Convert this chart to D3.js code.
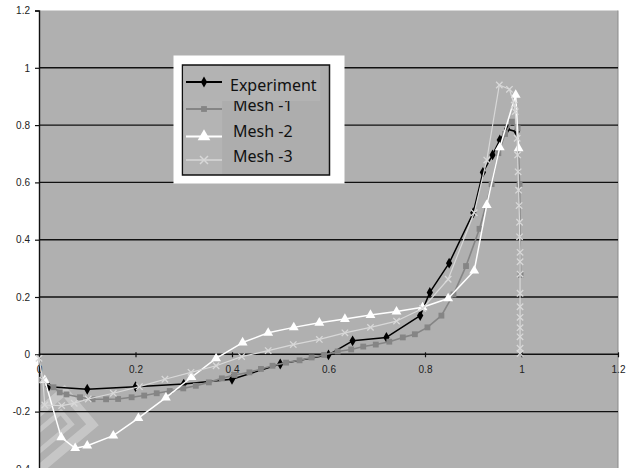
<!DOCTYPE html>
<html>
<head>
<meta charset="utf-8">
<script src="https://cdn.jsdelivr.net/npm/d3@7"></script>
<style>
  html, body { margin: 0; padding: 0; background: #fff; }
  svg { display: block; }
</style>
</head>
<body>
<svg id="chart" width="633" height="468"></svg>
<script>
// Axis ticks
const xTicks = [0, 0.2, 0.4, 0.6, 0.8, 1, 1.2];
const yTicks = [-0.4, -0.2, 0, 0.2, 0.4, 0.6, 0.8, 1, 1.2];

// Series names
const seriesNames = ["Experiment", "Mesh -1", "Mesh -2", "Mesh -3"];

// Experiment
const expX = [0.02, 0.10, 0.20, 0.30, 0.40, 0.50, 0.60, 0.65, 0.72, 0.79, 0.81, 0.85, 0.90, 0.92, 0.94, 0.955, 0.97, 0.99];
const expY = [-0.113, -0.122, -0.113, -0.104, -0.087, -0.034, -0.002, 0.047, 0.059, 0.135, 0.216, 0.318, 0.494, 0.635, 0.696, 0.748, 0.786, 0.777];

// Mesh -1
const mesh1X = [0.006, 0.03, 0.043, 0.057, 0.085, 0.111, 0.139, 0.164, 0.192, 0.218, 0.244, 0.271, 0.299, 0.325, 0.352, 0.379, 0.405, 0.436, 0.46, 0.484, 0.512, 0.54, 0.565, 0.591, 0.619, 0.647, 0.672, 0.698, 0.726, 0.754, 0.779, 0.805, 0.834, 0.859, 0.885, 0.913, 0.938, 0.952, 0.966, 0.98, 0.992, 0.996, 0.998];
const mesh1Y = [-0.090, -0.115, -0.133, -0.140, -0.150, -0.157, -0.157, -0.156, -0.150, -0.144, -0.136, -0.128, -0.119, -0.110, -0.098, -0.084, -0.072, -0.063, -0.051, -0.040, -0.029, -0.021, -0.011, -0.002, 0.010, 0.017, 0.027, 0.034, 0.044, 0.059, 0.070, 0.094, 0.135, 0.209, 0.308, 0.438, 0.594, 0.702, 0.769, 0.812, 0.789, 0.594, 0.277];

// Mesh -2
const mesh2X = [0.012, 0.046, 0.075, 0.10, 0.154, 0.206, 0.263, 0.316, 0.367, 0.422, 0.475, 0.528, 0.581, 0.634, 0.687, 0.741, 0.795, 0.848, 0.902, 0.928, 0.955, 0.988, 0.994];
const mesh2Y = [-0.09, -0.29, -0.328, -0.319, -0.284, -0.223, -0.151, -0.08, -0.014, 0.041, 0.075, 0.094, 0.110, 0.123, 0.137, 0.149, 0.164, 0.195, 0.292, 0.521, 0.722, 0.905, 0.719];

// Mesh -3
const mesh3X = [0, 0.008, 0.012, 0.047, 0.073, 0.102, 0.154, 0.208, 0.261, 0.315, 0.367, 0.42, 0.475, 0.527, 0.581, 0.634, 0.687, 0.741, 0.795, 0.848, 0.902, 0.928, 0.954, 0.975, 0.985, 0.987, 0.991, 0.992, 0.993, 0.994, 0.995, 0.996, 0.996, 0.997, 0.997, 0.997, 0.997, 0.997, 0.997, 0.997, 0.997, 0.997, 0.997];
const mesh3Y = [-0.014, -0.09, -0.177, -0.179, -0.171, -0.156, -0.136, -0.113, -0.087, -0.063, -0.04, -0.008, 0.013, 0.034, 0.052, 0.075, 0.094, 0.116, 0.16, 0.262, 0.494, 0.678, 0.94, 0.925, 0.87, 0.847, 0.754, 0.696, 0.637, 0.573, 0.519, 0.461, 0.41, 0.356, 0.323, 0.28, 0.213, 0.166, 0.129, 0.093, 0.061, 0.021, 0.003];

const W = 633, H = 468;
const plotLeft = 39, plotRight = 618, plotTop = 10.5;

const x = d3.scaleLinear().domain([0, 1.2]).range([plotLeft, plotRight]);
const y = d3.scaleLinear().domain([-0.4, 1.2]).range([468.9, plotTop]);

const svg = d3.select("#chart");
const fmt = d => String(+d.toFixed(1));

// Plot area background
svg.append("rect")
  .attr("x", plotLeft).attr("y", plotTop)
  .attr("width", plotRight - plotLeft).attr("height", H - plotTop + 20)
  .attr("fill", "#b0b0b0");

// Faint stamp in the lower-left corner
const stamp = svg.append("g")
  .attr("transform", "translate(40,440) rotate(-40)")
  .attr("fill", "none").attr("stroke", "#ffffff").attr("opacity", 0.28);
stamp.append("rect").attr("x", -40).attr("y", -22).attr("width", 90).attr("height", 44).attr("stroke-width", 9);
stamp.append("rect").attr("x", -22).attr("y", -8).attr("width", 56).attr("height", 16).attr("stroke-width", 5);

// Right edge of the plot area
svg.append("line")
  .attr("x1", plotRight).attr("x2", plotRight)
  .attr("y1", plotTop).attr("y2", H)
  .attr("stroke", "#8a8a8a").attr("stroke-width", 1);

// Horizontal gridlines
svg.append("g")
  .selectAll("line")
  .data(yTicks.filter(v => v !== 1.2 && v !== 0))
  .join("line")
  .attr("x1", plotLeft).attr("x2", plotRight)
  .attr("y1", d => y(d)).attr("y2", d => y(d))
  .attr("stroke", "#111").attr("stroke-width", 1.4);

// Y axis
const yAxis = d3.axisLeft(y).tickValues(yTicks).tickFormat(fmt).tickSize(4).tickPadding(5);
const gy = svg.append("g").attr("transform", `translate(${plotLeft},0)`).call(yAxis);
gy.select(".domain").attr("stroke", "#111").attr("stroke-width", 1.4);
gy.selectAll(".tick line").attr("stroke", "#111").attr("stroke-width", 1.2);
gy.selectAll(".tick text")
  .attr("font-family", "'Liberation Sans', Arial, sans-serif")
  .attr("font-size", 10).attr("fill", "#222");

// X axis through zero
const xAxis = d3.axisBottom(x).tickValues(xTicks).tickFormat(fmt).tickSize(3).tickPadding(9);
const gx = svg.append("g").attr("transform", `translate(0,${y(0)})`).call(xAxis);
gx.select(".domain").attr("stroke", "#111").attr("stroke-width", 1.4).attr("d", `M${plotLeft},0H${plotRight}`);
gx.selectAll(".tick line").attr("stroke", "#111").attr("stroke-width", 1.2).attr("y1", -2);
gx.selectAll(".tick text")
  .attr("font-family", "'Liberation Sans', Arial, sans-serif")
  .attr("font-size", 10).attr("fill", "#222");

// Marker shapes
const xMark = s => `M${-s},${-s}L${s},${s}M${-s},${s}L${s},${-s}`;
const styles = [
  { color: "#000000", width: 1.5, sym: d3.symbol(d3.symbolDiamond, 34)(), fill: true },
  { color: "#858585", width: 1.6, sym: d3.symbol(d3.symbolSquare, 34)(), fill: true },
  { color: "#ffffff", width: 1.5, sym: d3.symbol(d3.symbolTriangle, 42)(), fill: true },
  { color: "#d8d8d8", width: 1.2, sym: xMark(3.2), fill: false }
];

const series = [
  d3.zip(expX, expY),
  d3.zip(mesh1X, mesh1Y),
  d3.zip(mesh2X, mesh2Y),
  d3.zip(mesh3X, mesh3Y)
];

const lineLin = d3.line().x(d => x(d[0])).y(d => y(d[1]));

series.forEach((pts, i) => {
  const st = styles[i];
  const g = svg.append("g");
  g.append("path")
    .attr("d", lineLin(pts))
    .attr("fill", "none").attr("stroke", st.color)
    .attr("stroke-width", st.width).attr("stroke-linejoin", "round");
  g.selectAll("path.m")
    .data(pts)
    .join("path")
    .attr("class", "m")
    .attr("transform", d => `translate(${x(d[0])},${y(d[1])})`)
    .attr("d", st.sym)
    .attr("fill", st.fill ? st.color : "none")
    .attr("stroke", st.color)
    .attr("stroke-width", st.fill ? 0 : 1.3);
});

// Legend
const lg = svg.append("g");
lg.append("rect").attr("x", 173.5).attr("y", 55.5).attr("width", 171).attr("height", 128).attr("fill", "#fff");
lg.append("rect").attr("x", 182.5).attr("y", 65).attr("width", 147).attr("height", 110)
  .attr("fill", "#adadad").attr("stroke", "#111").attr("stroke-width", 1.5);
lg.append("rect").attr("x", 183.3).attr("y", 66).attr("width", 39).attr("height", 108).attr("fill", "#b4b4b4");

const symY = [82, 109, 136.5, 160];
const baseY = [90.5, 110.5, 136.5, 162];

// Entries below the first row, then the first row on top
[1, 2, 3, 0].forEach(i => {
  const st = styles[i];
  if (i === 0) {
    lg.append("rect").attr("x", 183.3).attr("y", 66.5).attr("width", 137).attr("height", 34.5).attr("fill", "#b3b3b3");
  }
  lg.append("line")
    .attr("x1", 186).attr("x2", 222)
    .attr("y1", symY[i]).attr("y2", symY[i])
    .attr("stroke", st.color).attr("stroke-width", st.width + 0.3);
  lg.append("path")
    .attr("transform", `translate(204,${symY[i]})`)
    .attr("d", i === 2 ? d3.symbol(d3.symbolTriangle, 70)() : (i === 3 ? xMark(4) : st.sym))
    .attr("fill", st.fill ? st.color : "none")
    .attr("stroke", st.color)
    .attr("stroke-width", st.fill ? 0 : 1.5);
  lg.append("text")
    .attr("x", i === 0 ? 230 : 233).attr("y", baseY[i])
    .attr("font-family", "'Noto Sans', 'Open Sans', sans-serif")
    .attr("font-size", 16).attr("fill", "#111")
    .text(seriesNames[i]);
});
</script>
</body>
</html>
